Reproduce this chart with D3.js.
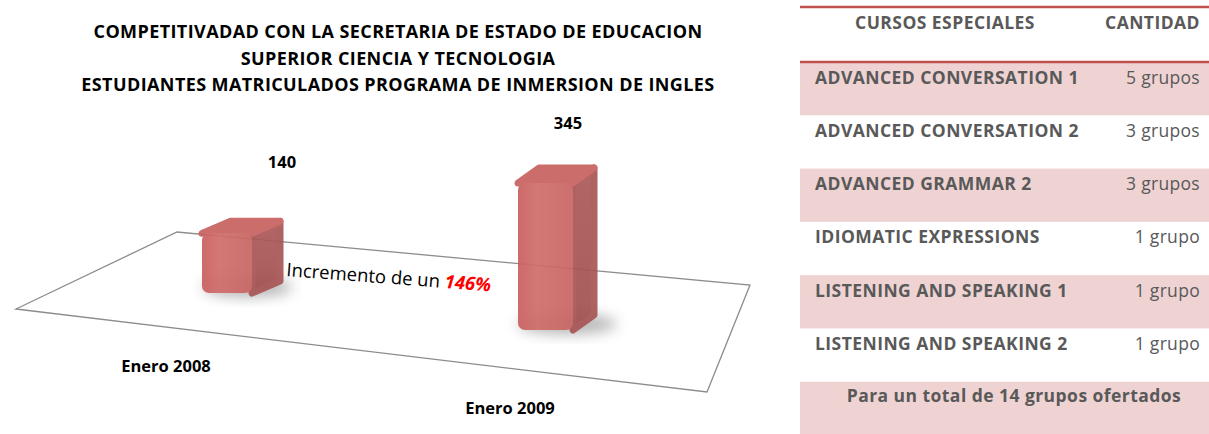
<!DOCTYPE html>
<html>
<head>
<meta charset="utf-8">
<script src="https://cdn.jsdelivr.net/npm/d3@7"></script>
<style>
  body { margin: 0; background: #fff; }
  svg { display: block; }
  text { font-family: "Open Sans", Lato, sans-serif; }
</style>
</head>
<body>
<div class="chart"></div>
<script>
// datos
var titulo = [
    'COMPETITIVADAD CON LA SECRETARIA DE ESTADO DE EDUCACION',
    'SUPERIOR CIENCIA Y TECNOLOGIA',
    'ESTUDIANTES MATRICULADOS PROGRAMA DE INMERSION DE INGLES'
];
var periodos = ['Enero 2008', 'Enero 2009'];
var matriculados = [140, 345];
var incremento = '146%';

var cursos = ['ADVANCED CONVERSATION 1', 'ADVANCED CONVERSATION 2', 'ADVANCED GRAMMAR 2',
    'IDIOMATIC EXPRESSIONS', 'LISTENING AND SPEAKING 1', 'LISTENING AND SPEAKING 2'];
var grupos = [5, 3, 3, 1, 1, 1];
var encabezados = ['CURSOS ESPECIALES', 'CANTIDAD'];

var width = 1209, height = 434;
var svg = d3.select('.chart').append('svg')
    .attr('width', width)
    .attr('height', height);

var defs = svg.append('defs');
var gFront = defs.append('linearGradient').attr('id', 'front')
    .attr('x1', 0).attr('x2', 1).attr('y1', 0).attr('y2', 0);
gFront.append('stop').attr('offset', '0%').attr('stop-color', '#c9605e');
gFront.append('stop').attr('offset', '35%').attr('stop-color', '#d06e6c');
gFront.append('stop').attr('offset', '100%').attr('stop-color', '#c96664');
var gSide = defs.append('linearGradient').attr('id', 'side')
    .attr('x1', 0).attr('x2', 0).attr('y1', 0).attr('y2', 1);
gSide.append('stop').attr('offset', '0%').attr('stop-color', '#ad5b5a');
gSide.append('stop').attr('offset', '100%').attr('stop-color', '#a15150');
defs.append('filter').attr('id', 'blur')
    .attr('x', '-50%').attr('y', '-50%').attr('width', '200%').attr('height', '200%')
    .append('feGaussianBlur').attr('stdDeviation', 7);

// titulo
svg.append('g').selectAll('text')
    .data(titulo)
    .enter().append('text')
    .attr('x', 398)
    .attr('y', function (d, i) { return 38 + i * 26.5; })
    .attr('text-anchor', 'middle')
    .style('font-size', '18px')
    .style('font-weight', 'bold')
    .style('letter-spacing', '0.4px')
    .style('fill', '#000')
    .text(function (d) { return d; });

// piso en perspectiva
var piso = [[16, 309], [177, 232], [750, 285], [707, 392]];

// escalas
var x = d3.scalePoint().domain(periodos).range([202, 518]);
var base = d3.scalePoint().domain(periodos).range([293, 330]);
var ancho = d3.scaleOrdinal().domain(periodos).range([50, 55]);
var prof = d3.scaleOrdinal().domain(periodos).range([[28, -12], [21, -15]]);
var h = d3.scaleLinear().domain([0, 345]).range([0, 147]);
var etqX = d3.scalePoint().domain(periodos).range([282, 568]);
var etqOff = d3.scaleOrdinal().domain(periodos).range([65, 54]);
var catX = d3.scalePoint().domain(periodos).range([166, 510]);
var catY = d3.scalePoint().domain(periodos).range([372, 414]);

var datos = periodos.map(function (p, i) { return {p: p, v: matriculados[i]}; });

// sombras
svg.append('g').selectAll('ellipse')
    .data(datos)
    .enter().append('ellipse')
    .attr('cx', function (d) { return x(d.p) + ancho(d.p) * 0.75 + 8; })
    .attr('cy', function (d) { return base(d.p) - 6; })
    .attr('rx', function (d) { return ancho(d.p) * 0.9; })
    .attr('ry', 10)
    .style('fill', '#777')
    .style('opacity', 0.55)
    .attr('filter', 'url(#blur)');

// linea del piso (detras)
svg.append('path')
    .attr('d', d3.line()(piso) + 'Z')
    .style('fill', 'none')
    .style('stroke', '#8c8c8c')
    .style('stroke-width', 1.3);

// barras
var barras = svg.append('g').selectAll('g')
    .data(datos)
    .enter().append('g')
    .style('opacity', 0.93);

function caras(d) {
    var x0 = x(d.p), x1 = x0 + ancho(d.p);
    var yb = base(d.p), yt = yb - h(d.v);
    var dx = prof(d.p)[0], dy = prof(d.p)[1];
    return {
        lado: [[x1, yt], [x1 + dx, yt + dy], [x1 + dx, yb + dy], [x1, yb]],
        tapa: [[x0, yt], [x0 + dx, yt + dy], [x1 + dx, yt + dy], [x1, yt]],
        x0: x0, x1: x1, yt: yt, yb: yb
    };
}

barras.append('path')
    .attr('d', function (d) { return d3.line()(caras(d).lado) + 'Z'; })
    .style('fill', 'url(#side)')
    .style('stroke', '#a85756')
    .style('stroke-width', 7)
    .style('stroke-linejoin', 'round');
barras.append('path')
    .attr('d', function (d) { return d3.line()(caras(d).tapa) + 'Z'; })
    .style('fill', '#c8625f')
    .style('stroke', '#c8625f')
    .style('stroke-width', 7)
    .style('stroke-linejoin', 'round');
barras.append('rect')
    .attr('x', function (d) { return caras(d).x0; })
    .attr('y', function (d) { return caras(d).yt; })
    .attr('width', function (d) { return ancho(d.p); })
    .attr('height', function (d) { return h(d.v); })
    .attr('rx', 7)
    .style('fill', 'url(#front)');

// valores
svg.append('g').selectAll('text')
    .data(datos)
    .enter().append('text')
    .attr('x', function (d) { return etqX(d.p); })
    .attr('y', function (d) { return base(d.p) - h(d.v) - etqOff(d.p); })
    .attr('text-anchor', 'middle')
    .style('font-size', '16.5px')
    .style('font-weight', 'bold')
    .text(function (d) { return d.v; });

// categorias
svg.append('g').selectAll('text')
    .data(periodos)
    .enter().append('text')
    .attr('x', function (d) { return catX(d); })
    .attr('y', function (d) { return catY(d); })
    .attr('text-anchor', 'middle')
    .style('font-size', '16.5px')
    .style('font-weight', 'bold')
    .text(function (d) { return d; });

// incremento
var inc = svg.append('text')
    .attr('transform', 'translate(286,276) rotate(4.3)')
    .style('font-size', '18.5px')
    .style('fill', '#000');
inc.append('tspan').text('Incremento de un ');
inc.append('tspan').style('fill', '#ff0000').style('font-weight', 'bold').style('font-style', 'italic').text(incremento);

// tabla
var tx0 = 800, tx1 = 1209;
var filas = d3.scaleBand().domain(d3.range(cursos.length + 1)).range([62, 435]);
var tabla = svg.append('g');

tabla.selectAll('rect')
    .data(d3.range(cursos.length + 1).filter(function (i) { return i % 2 === 0; }))
    .enter().append('rect')
    .attr('x', tx0)
    .attr('y', function (i) { return filas(i); })
    .attr('width', tx1 - tx0)
    .attr('height', filas.bandwidth())
    .style('fill', '#efd3d3');

tabla.selectAll('line')
    .data([7, 62])
    .enter().append('line')
    .attr('x1', tx0).attr('x2', tx1)
    .attr('y1', function (d) { return d; }).attr('y2', function (d) { return d; })
    .style('stroke', '#c0504d')
    .style('stroke-width', 2.5);

function negrita(sel) {
    sel.style('font-size', '17.5px').style('font-weight', 'bold')
        .style('letter-spacing', '0.45px').style('fill', '#595959');
}

tabla.append('text')
    .attr('x', 945).attr('y', 29)
    .attr('text-anchor', 'middle')
    .call(negrita)
    .text(encabezados[0]);
tabla.append('text')
    .attr('x', 1200).attr('y', 29)
    .attr('text-anchor', 'end')
    .call(negrita)
    .text(encabezados[1]);

var fila = tabla.selectAll('g.fila')
    .data(cursos)
    .enter().append('g').attr('class', 'fila');
fila.append('text')
    .attr('x', 815)
    .attr('y', function (d, i) { return filas(i) + 21.5; })
    .call(negrita)
    .text(function (d) { return d; });
fila.append('text')
    .attr('x', 1200)
    .attr('y', function (d, i) { return filas(i) + 21.5; })
    .attr('text-anchor', 'end')
    .style('font-size', '17.5px').style('letter-spacing', '0.3px').style('fill', '#595959')
    .text(function (d, i) { return grupos[i] + (grupos[i] === 1 ? ' grupo' : ' grupos'); });

tabla.append('text')
    .attr('x', 1014)
    .attr('y', filas(cursos.length) + 20.5)
    .attr('text-anchor', 'middle')
    .call(negrita)
    .text('Para un total de ' + d3.sum(grupos) + ' grupos ofertados');
</script>
</body>
</html>
